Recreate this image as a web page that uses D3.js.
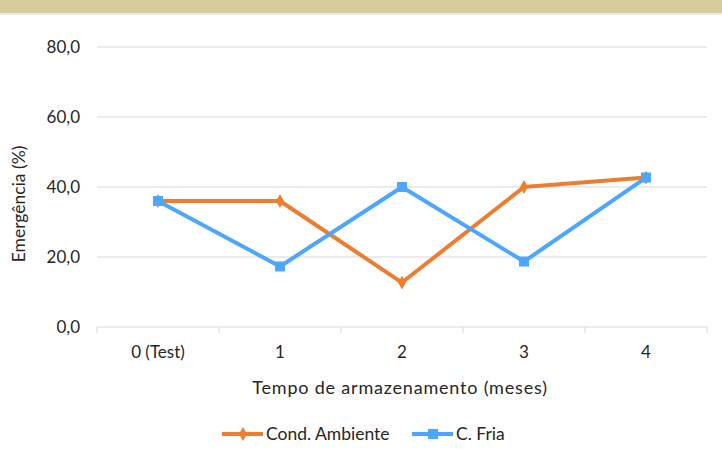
<!DOCTYPE html>
<html>
<head>
<meta charset="utf-8">
<script src="https://cdn.jsdelivr.net/npm/d3@7"></script>
<style>
  html, body { margin: 0; padding: 0; background: #fff; }
  svg { display: block; font-family: Lato, "Noto Sans", sans-serif; }
</style>
</head>
<body>
<svg id="chart" width="722" height="449"></svg>
<script>
// Storage months and seedling emergence (%) under two storage conditions
const categories = ["0 (Test)", "1", "2", "3", "4"];
const ambiente = [36.0, 36.0, 12.7, 40.0, 42.7];
const fria = [36.0, 17.3, 40.0, 18.7, 42.7];
const yTicks = [0, 20, 40, 60, 80];
const seriesNames = ["Cond. Ambiente", "C. Fria"];
const seriesColors = ["#ED7D31", "#4DA6FF"];

const svg = d3.select("#chart");
const W = 722, H = 449;
const m = { left: 97, right: 15, top: 47, bottom: 122 };
const textColor = "#262626";

// Header band
svg.append("rect").attr("x", 0).attr("y", 0).attr("width", W).attr("height", 13).attr("fill", "#D8CC9E");
svg.append("rect").attr("x", 0).attr("y", 13).attr("width", W).attr("height", 2).attr("fill", "#E8E8E8");

const x = d3.scaleBand().domain(categories).range([m.left, W - m.right]);
const y = d3.scaleLinear().domain([0, 80]).range([H - m.bottom, m.top]);

// Horizontal gridlines
svg.append("g")
  .selectAll("line")
  .data(yTicks.filter(t => t > 0))
  .join("line")
  .attr("x1", m.left).attr("x2", W - m.right)
  .attr("y1", d => y(d)).attr("y2", d => y(d))
  .attr("stroke", "#D9D9D9").attr("stroke-width", 1);

// Y axis labels
const yAxis = svg.append("g")
  .attr("transform", `translate(${m.left},0)`)
  .call(d3.axisLeft(y).tickValues(yTicks).tickSize(0).tickPadding(17)
    .tickFormat(d => d3.format(".1f")(d).replace(".", ",")));
yAxis.select(".domain").remove();
yAxis.selectAll("text").attr("font-size", 17).attr("fill", textColor)
  .attr("font-family", "Lato, 'Noto Sans', sans-serif");

// X axis with boundary ticks
const xg = svg.append("g").attr("transform", `translate(0,${y(0)})`);
xg.append("line").attr("x1", m.left).attr("x2", W - m.right)
  .attr("stroke", "#D9D9D9").attr("stroke-width", 1);
const bounds = categories.map(c => x(c)).concat([x(categories[categories.length - 1]) + x.bandwidth()]);
xg.selectAll("line.tk").data(bounds).join("line").attr("class", "tk")
  .attr("x1", d => d).attr("x2", d => d).attr("y1", 0).attr("y2", 6)
  .attr("stroke", "#D9D9D9");
xg.selectAll("text").data(categories).join("text")
  .attr("x", d => x(d) + x.bandwidth() / 2).attr("y", 31)
  .attr("text-anchor", "middle").attr("font-size", 17).attr("fill", textColor)
  .text(d => d);

// Axis titles
svg.append("text").attr("x", 400).attr("y", 394).attr("text-anchor", "middle")
  .attr("font-size", 18).attr("fill", textColor).attr("letter-spacing", 0.8)
  .text("Tempo de armazenamento (meses)");
svg.append("text").attr("transform", `translate(25,204) rotate(-90)`)
  .attr("text-anchor", "middle").attr("font-size", 17.5).attr("fill", textColor)
  .text("Emergência (%)");

const cx = d => x(d) + x.bandwidth() / 2;
const line = d3.line().x(d => cx(d.c)).y(d => y(d.v));

const series = [ambiente, fria].map((vals, i) => ({
  name: seriesNames[i], color: seriesColors[i],
  pts: vals.map((v, j) => ({ c: categories[j], v }))
}));

const diamond = d3.symbol().type(d3.symbolDiamond).size(55);
const square = d3.symbol().type(d3.symbolSquare).size(100);

series.forEach((s, i) => {
  const g = svg.append("g");
  g.append("path").datum(s.pts).attr("d", line).attr("fill", "none")
    .attr("stroke", s.color).attr("stroke-width", 4).attr("stroke-linejoin", "round");
  g.selectAll("path.mk").data(s.pts).join("path").attr("class", "mk")
    .attr("transform", d => `translate(${cx(d.c)},${y(d.v)})`)
    .attr("d", i === 0 ? diamond : square).attr("fill", s.color);
});

// Legend
const legend = svg.append("g").attr("transform", "translate(0,434)");
const legendItems = [
  { x0: 222, tx: 266 },
  { x0: 412, tx: 456 }
];
series.forEach((s, i) => {
  const it = legendItems[i];
  legend.append("line").attr("x1", it.x0).attr("x2", it.x0 + 41).attr("y1", 0).attr("y2", 0)
    .attr("stroke", s.color).attr("stroke-width", 4);
  legend.append("path").attr("transform", `translate(${it.x0 + 21},0)`)
    .attr("d", i === 0 ? diamond : square).attr("fill", s.color);
  legend.append("text").attr("x", it.tx).attr("y", 6).attr("font-size", 17.5)
    .attr("fill", textColor).text(s.name);
});
</script>
</body>
</html>
